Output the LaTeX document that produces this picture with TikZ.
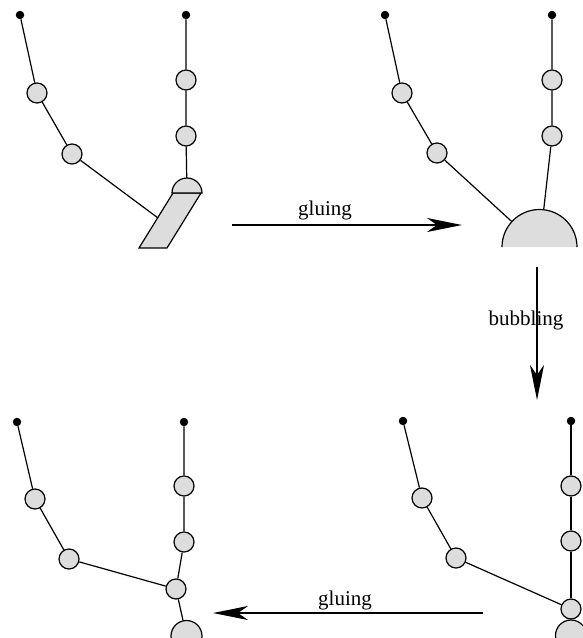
\documentclass[tikz,border=0pt]{standalone}
\usepackage{fontspec}
\setmainfont{Liberation Serif}
\usetikzlibrary{arrows.meta,calc}
\definecolor{bubblefill}{HTML}{DDDDDD}
\tikzset{
  lw/.style={line width=1.2pt},
  leaf/.style={circle,fill=black,inner sep=0pt,minimum size=8.5pt},
  bead/.style={circle,draw,lw,fill=bubblefill,inner sep=0pt,minimum size=20pt},
  bigbead/.style={circle,draw,lw,fill=bubblefill,inner sep=0pt,minimum size=31pt},
  edge/.style={lw},
  ghost/.style={circle,inner sep=0pt,minimum size=#1},
  movearrow/.style={lw,-{Stealth[length=35pt,width=14pt,inset=10pt]}},
  lbl/.style={font=\fontsize{21}{25}\selectfont,anchor=base,inner sep=0pt},
}
\begin{document}
\begin{tikzpicture}[x=1pt,y=-1pt]
\useasboundingbox (0,0) rectangle (582,638);

% ---------- upper left: tree before gluing ----------
\node[leaf] (a0) at (20,15) {};
\node[bead] (a1) at (37,93) {};
\node[bead] (a2) at (72,154) {};
\node[leaf] (b0) at (186,15) {};
\node[bead] (b1) at (186,80) {};
\node[bead] (b2) at (186,136) {};
\coordinate (p1) at (173,193);
\coordinate (p2) at (201,193);
\coordinate (p3) at (167,248);
\coordinate (p4) at (139,248);
\filldraw[lw,fill=bubblefill] (p1) -- (p2) -- (p3) -- (p4) -- cycle;
% y points down here, so negative angles sweep over the top
\filldraw[lw,fill=bubblefill] (202,193) arc[start angle=0,end angle=-180,radius=15] -- cycle;
\node[ghost=30pt] (cap) at (187,193) {};
\coordinate (pl) at ($(p1)!0.45!(p4)$);
\draw[edge] (a0) -- (a1) -- (a2) -- (pl);
\draw[edge] (b0) -- (b1) -- (b2) -- (cap);

% ---------- upper right: after gluing ----------
\fill[bubblefill] (577,247) arc[start angle=0,end angle=-180,radius=37.5] -- cycle;
\draw[lw] (577,247) arc[start angle=0,end angle=-180,radius=37.5];
\node[ghost=75pt] (hub) at (539.5,247) {};
\node[leaf] (c0) at (385,15) {};
\node[bead] (c1) at (402,93) {};
\node[bead] (c2) at (437,153) {};
\node[leaf] (d0) at (552,15) {};
\node[bead] (d1) at (552,80) {};
\node[bead] (d2) at (552,136) {};
\draw[edge] (c0) -- (c1) -- (c2) -- (hub);
\draw[edge] (d0) -- (d1) -- (d2) -- (hub);

% ---------- lower right: after bubbling ----------
\node[leaf] (e0) at (403,421) {};
\node[bead] (e1) at (422,498) {};
\node[bead] (e2) at (456,558) {};
\node[leaf] (f0) at (571,421) {};
\node[bead] (f1) at (571,486) {};
\node[bead] (f2) at (571,541) {};
\node[bead] (f3) at (571,609) {};
\node[bigbead] (f4) at (571,635.5) {};
\draw[edge] (e0) -- (e1) -- (e2) -- (f3);
\draw[edge] (f0) -- (f1) -- (f2) -- (f3);

% ---------- lower left: glued again ----------
\node[leaf] (g0) at (17,422) {};
\node[bead] (g1) at (35,499) {};
\node[bead] (g2) at (69,559) {};
\node[leaf] (h0) at (184,422) {};
\node[bead] (h1) at (184,486) {};
\node[bead] (h2) at (184,542) {};
\node[bead] (h3) at (176,589) {};
\node[bigbead] (h4) at (186.5,636) {};
\draw[edge] (g0) -- (g1) -- (g2) -- (h3);
\draw[edge] (h0) -- (h1) -- (h2) -- (h3) -- (h4);

% ---------- moves between the stages ----------
\coordinate (m1s) at (232,225);
\coordinate (m1e) at (462,225);
\draw[movearrow] (m1s) -- (m1e);
\node[lbl] (t1) at (325,215) {gluing};

\coordinate (m2s) at (537,267);
\coordinate (m2e) at (537,400);
\draw[movearrow] (m2s) -- (m2e);
\node[lbl] (t2) at (526,325) {bubbling};

\coordinate (m3s) at (483,613);
\coordinate (m3e) at (213,613);
\draw[movearrow] (m3s) -- (m3e);
\node[lbl] (t3) at (345,605) {gluing};
\end{tikzpicture}
\end{document}
